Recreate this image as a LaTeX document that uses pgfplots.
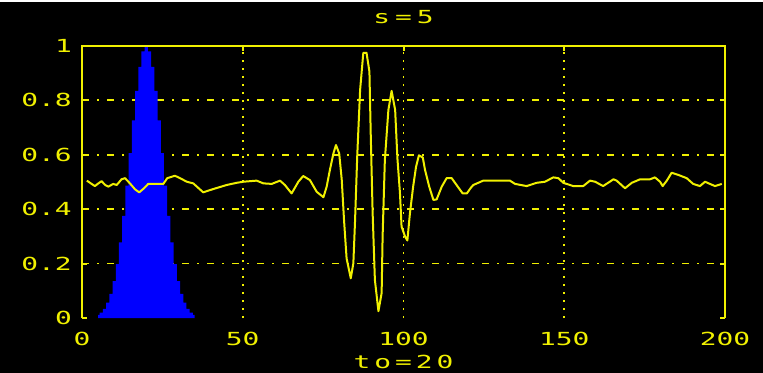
\documentclass[border=0pt]{standalone}
\usepackage{fontspec}
\usepackage{pgfplots}
\pgfplotsset{compat=1.18}
\newfontfamily\scopefont[FakeStretch=1.55]{DejaVu Sans Mono}
\definecolor{scopeyellow}{RGB}{240,240,0}
\definecolor{scopeblue}{RGB}{0,0,255}

\begin{document}
\begin{tikzpicture}
% screen background
\fill[black] (0,0) rectangle (763bp,373bp);
\fill[white] (0,371bp) rectangle (763bp,373bp);
\begin{axis}[
  at={(82bp,55bp)}, anchor=south west,
  scale only axis, width=643bp, height=272bp,
  xmin=0, xmax=200, ymin=0, ymax=1,
  clip=false,
  axis line style={draw=none},
  xtick={50,100,150}, ytick={0.2,0.4,0.6,0.8},
  extra x ticks={0,200}, extra y ticks={0,1},
  extra x tick style={grid=none},
  extra y tick style={grid=none},
  xtick pos=upper, xticklabel pos=lower,
  ytick pos=both, yticklabel pos=left,
  grid=major,
  major x grid style={scopeyellow, line width=1.8bp, dash pattern=on 2bp off 6bp},
  major y grid style={scopeyellow, line width=1.8bp, dash pattern=on 7bp off 8bp on 2bp off 8bp},
  tick align=inside,
  major tick length=5bp,
  tick style={scopeyellow, line width=2bp},
  /pgf/number format/assume math mode=true,
  ticklabel style={font=\scopefont\fontsize{18bp}{20bp}\selectfont, text=scopeyellow, inner sep=0pt},
  xticklabel style={anchor=base, yshift=-27bp},
  yticklabel style={anchor=east, xshift=-10bp},
  title={s\kern5bp=\kern5bp5},
  title style={font=\scopefont\fontsize{18bp}{20bp}\selectfont, text=scopeyellow, inner sep=0pt,
    anchor=base, at={(axis description cs:0.5,1)}, yshift=17bp},
  xlabel={t\kern4bp o\kern4bp =\kern4bp 2\kern4bp 0},
  xlabel style={font=\scopefont\fontsize{18bp}{20bp}\selectfont, text=scopeyellow, inner sep=0pt,
    anchor=base, at={(axis description cs:0.5,0)}, yshift=-50bp},
]
% Gaussian window centred at t0 = 20
\addplot[fill=scopeblue, draw=none, const plot mark mid] coordinates {
  (5,0.0111) (6,0.0198) (7,0.0340) (8,0.0561) (9,0.0889) (10,0.1353)
  (11,0.1979) (12,0.2780) (13,0.3753) (14,0.4868) (15,0.6065) (16,0.7261)
  (17,0.8353) (18,0.9231) (19,0.9802) (20,1.0000) (21,0.9802) (22,0.9231)
  (23,0.8353) (24,0.7261) (25,0.6065) (26,0.4868) (27,0.3753) (28,0.2780)
  (29,0.1979) (30,0.1353) (31,0.0889) (32,0.0561) (33,0.0340) (34,0.0198)
  (35,0.0111)
} \closedcycle;
% analysed signal
\addplot[scopeyellow, line width=2bp, line join=round] coordinates {
  (1.5,0.505) (3.0,0.493) (4.0,0.485) (5.1,0.495) (6.1,0.503) (7.2,0.489)
  (8.2,0.483) (9.7,0.493) (10.8,0.489) (12.3,0.510) (13.4,0.514) (14.9,0.495)
  (16.5,0.473) (17.8,0.462) (19.3,0.477) (20.6,0.493) (25.3,0.493) (26.5,0.514)
  (28.9,0.523) (30.5,0.514) (32.6,0.501) (34.6,0.495) (37.7,0.462) (40.8,0.474)
  (45.0,0.489) (48.1,0.497) (50.2,0.501) (54.3,0.505) (56.4,0.495) (59.0,0.493)
  (61.6,0.505) (63.1,0.489) (65.2,0.458) (67.3,0.501) (68.8,0.522) (70.9,0.507)
  (73.0,0.464) (75.1,0.444) (76.1,0.483) (77.1,0.544) (78.2,0.605) (79.0,0.636)
  (80.0,0.605) (80.8,0.507) (81.5,0.360) (82.3,0.219) (83.6,0.146) (84.4,0.201)
  (84.9,0.348) (85.6,0.593) (86.5,0.838) (87.5,0.975) (88.5,0.975) (89.4,0.906)
  (89.8,0.680) (90.4,0.386) (91.1,0.140) (92.2,0.025) (93.2,0.092) (93.5,0.299)
  (94.2,0.581) (95.3,0.765) (96.3,0.835) (97.4,0.765) (98.1,0.588) (98.9,0.459)
  (99.4,0.336) (100.5,0.299) (101.2,0.285) (102.0,0.385) (103.0,0.483) (103.9,0.556)
  (104.8,0.598) (106.0,0.590) (106.7,0.544) (108.0,0.483) (109.3,0.434) (110.3,0.436)
  (111.9,0.483) (113.4,0.514) (115.0,0.514) (116.5,0.489) (118.4,0.458) (119.7,0.458)
  (120.9,0.478) (121.7,0.489) (124.8,0.505) (133.1,0.505) (134.7,0.493) (138.3,0.485)
  (141.4,0.497) (144.0,0.501) (146.6,0.517) (148.2,0.514) (149.7,0.497) (152.8,0.485)
  (155.9,0.485) (158.0,0.505) (159.6,0.501) (162.1,0.485) (165.3,0.510) (166.3,0.505)
  (168.9,0.477) (171.0,0.497) (173.6,0.510) (176.7,0.510) (178.2,0.517) (179.8,0.501)
  (180.6,0.485) (181.9,0.505) (183.4,0.534) (185.5,0.526) (188.1,0.514) (190.1,0.493)
  (192.2,0.485) (193.8,0.501) (195.3,0.493) (196.9,0.485) (199.0,0.493)
};
% frame: left, top and right edges only
\draw[scopeyellow, line width=2bp] (rel axis cs:0,0) -- (rel axis cs:0,1)
  -- (rel axis cs:1,1) -- (rel axis cs:1,0);
\end{axis}
\end{tikzpicture}
\end{document}
